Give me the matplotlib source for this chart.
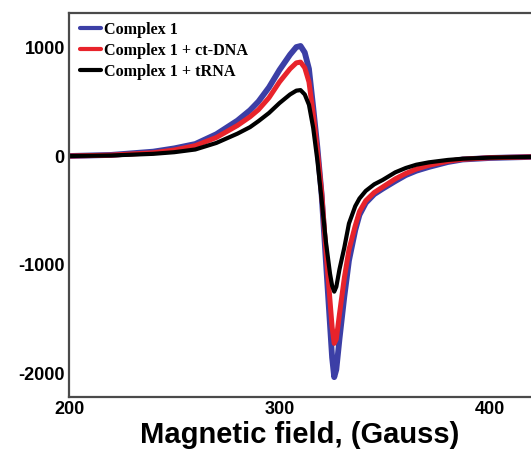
import numpy as np
import matplotlib
matplotlib.use('Agg')
import matplotlib.pyplot as plt

plt.rcParams['axes.unicode_minus'] = False

# EPR spectra, values
field = [200, 220, 240, 250, 260, 270, 280, 286, 290, 295, 300, 305, 308, 310, 312, 314, 316, 318, 320, 322,
         324, 325, 326, 327, 328.5, 330.8, 333, 336, 338, 341, 345, 349, 355, 360, 365, 371, 380, 387, 400, 420]
complex1 = [0, 10, 40, 70, 110, 200, 325, 420, 500, 630, 790, 930, 1000, 1010, 950, 800, 450, 80, -350, -950,
            -1550, -1850, -2030, -1960, -1680, -1290, -960, -680, -540, -430, -350, -300, -230, -175, -135, -100, -55, -32, -18, -8]
complex1_dna = [0, 8, 30, 55, 95, 170, 280, 360, 425, 535, 680, 800, 855, 862, 810, 680, 390, 50, -330, -850,
                -1330, -1570, -1720, -1680, -1450, -1120, -860, -640, -510, -410, -335, -285, -210, -160, -120, -85, -48, -30, -16, -8]
complex1_trna = [0, 5, 20, 35, 60, 120, 205, 265, 320, 395, 486, 565, 600, 605, 565, 470, 260, -40, -400, -780,
                 -1080, -1190, -1245, -1200, -1040, -840, -620, -460, -390, -320, -260, -220, -150, -110, -80, -58, -36, -25, -15, -8]
labels = ['Complex 1', 'Complex 1 + ct-DNA', 'Complex 1 + tRNA']
colors = ['#3c3fa6', '#e8232b', '#000000']
widths = [4.2, 3.6, 3.0]

fig = plt.figure(figsize=(5.31, 4.51), dpi=100)
ax = fig.add_axes([0.130, 0.120, 0.870, 0.851])

for y, lab, c, w in zip([complex1, complex1_dna, complex1_trna], labels, colors, widths):
    ax.plot(field, y, color=c, lw=w, label=lab, solid_joinstyle='round', solid_capstyle='round')

ax.set_xlim(200, 419.5)
ax.set_ylim(-2211, 1312)
ax.set_xticks([200, 300, 400])
ax.set_yticks([1000, 0, -1000, -2000])
ax.tick_params(length=0, pad=3)
for t in ax.get_xticklabels() + ax.get_yticklabels():
    t.set_fontfamily('Liberation Sans')
    t.set_fontweight('bold')
    t.set_fontsize(13)
for s in ['left', 'bottom', 'top']:
    ax.spines[s].set_color('#4a4a4a')
    ax.spines[s].set_linewidth(1.6)
ax.spines['right'].set_visible(False)

ax.set_xlabel('Magnetic field, (Gauss)', fontfamily='Liberation Sans', fontweight='bold', fontsize=21, labelpad=2)

leg = ax.legend(loc='upper left', bbox_to_anchor=(-0.005, 1.01), frameon=False,
                prop={'family': 'Liberation Serif', 'weight': 'bold', 'size': 11.6},
                handlelength=1.3, handletextpad=0.2, labelspacing=0.3, borderaxespad=0.4)
for h in leg.get_lines():
    h.set_linewidth(3)

fig.savefig('out.png', dpi=100)
